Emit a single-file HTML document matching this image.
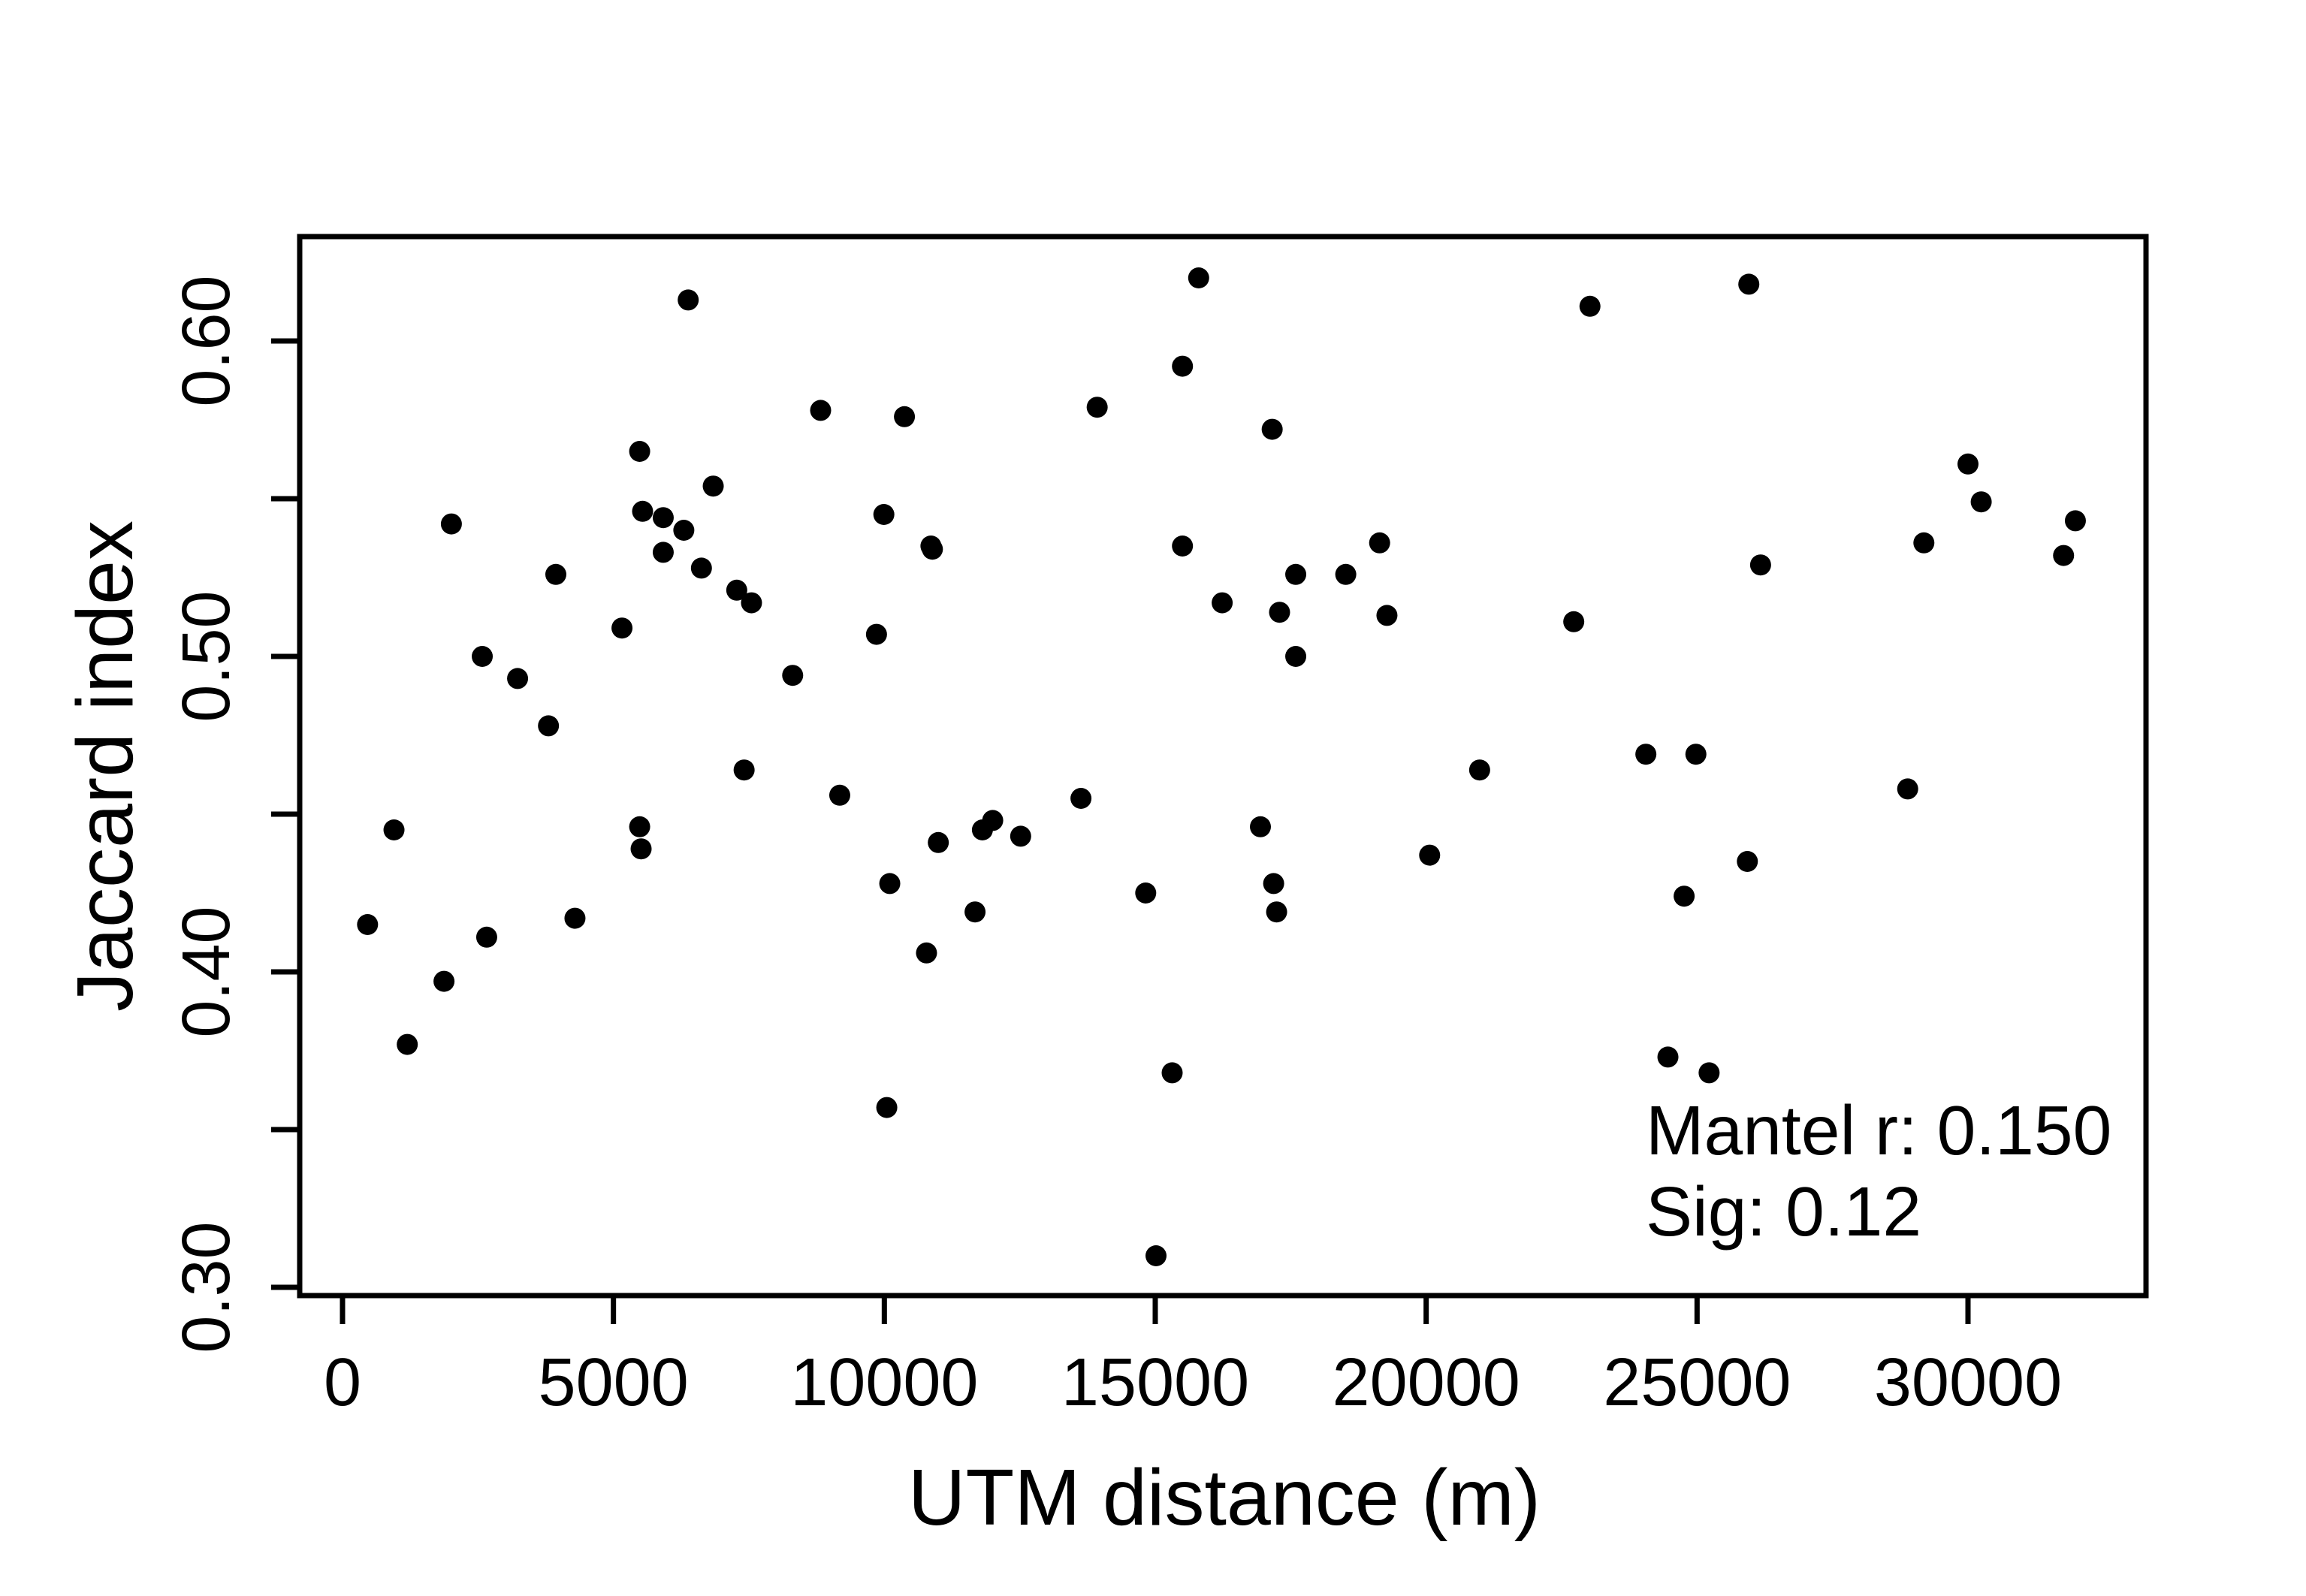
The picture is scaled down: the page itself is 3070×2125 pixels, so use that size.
<!DOCTYPE html>
<html><head><meta charset="utf-8"><style>
html,body{margin:0;padding:0;background:#fff}
svg{display:block}
text{font-family:"Liberation Sans",Arial,sans-serif;fill:#000}
</style></head><body>
<svg id="chart" width="3070" height="2125" viewBox="0 0 3070 2125" xmlns="http://www.w3.org/2000/svg">
<rect x="0" y="0" width="3070" height="2125" fill="#fff"/>
<g id="points"></g>
<g id="axes"></g>
<rect x="399" y="315" width="2458" height="1410" fill="none" stroke="#000" stroke-width="7"/>
<text x="1630" y="2030" font-size="106" text-anchor="middle">UTM distance (m)</text>
<text transform="translate(176,1020) rotate(-90)" font-size="106" text-anchor="middle">Jaccard index</text>
<text x="2191" y="1537" font-size="93">Mantel r: 0.150</text>
<text x="2191" y="1645" font-size="93">Sig: 0.12</text>
</svg>
<script>
const xValues=[462,950,1195,1873,2009,2579,2661,3231,3801,3937,4290,5158,5484,5538,5484,5511,5919,5919,6299,6380,6624,6842,7276,7412,7548,8308,8824,9177,9855,9991,10100,10045,10371,10778,10860,10887,10996,11674,11810,12000,12516,13629,13928,14824,15014,15312,15502,15502,15801,16235,16941,17158,17185,17240,17294,17593,17593,18516,19141,19276,20064,20987,22724,23023,24055,24462,24761,24978,25222,25928,25955,26172,28887,29186,30000,30244,31764,31982];
const yValues=[0.415,0.445,0.377,0.397,0.542,0.500,0.411,0.493,0.478,0.526,0.417,0.509,0.565,0.546,0.446,0.439,0.544,0.533,0.540,0.613,0.528,0.554,0.521,0.464,0.517,0.494,0.578,0.456,0.507,0.545,0.428,0.357,0.576,0.406,0.535,0.534,0.441,0.419,0.445,0.448,0.443,0.455,0.579,0.425,0.310,0.368,0.592,0.535,0.620,0.517,0.446,0.572,0.428,0.419,0.514,0.526,0.500,0.526,0.536,0.513,0.437,0.464,0.511,0.611,0.469,0.373,0.424,0.469,0.368,0.435,0.618,0.529,0.458,0.536,0.561,0.549,0.532,0.543];
const xTicks=[0,5000,10000,15000,20000,25000,30000];
const xTickLabels=["0","5000","10000","15000","20000","25000","30000"];
const yTicks=[0.30,0.35,0.40,0.45,0.50,0.55,0.60];
const yTickLabels=["0.30","","0.40","","0.50","","0.60"];
const NS="http://www.w3.org/2000/svg";
function sx(v){return 456+(v-0)*(2620-456)/30000;}
function sy(v){return 454+(0.60-v)*(1294-454)/0.20;}
const pg=document.getElementById('points');
for(let i=0;i<xValues.length;i++){
  const c=document.createElementNS(NS,'circle');
  c.setAttribute('cx',sx(xValues[i]));c.setAttribute('cy',sy(yValues[i]));c.setAttribute('r',14);c.setAttribute('fill','#000');
  
  
  pg.appendChild(c);
}
const ag=document.getElementById('axes');
function line(x1,y1,x2,y2,name){const l=document.createElementNS(NS,'line');l.setAttribute('x1',x1);l.setAttribute('y1',y1);l.setAttribute('x2',x2);l.setAttribute('y2',y2);l.setAttribute('stroke','#000');l.setAttribute('stroke-width',7);


ag.appendChild(l);}
line(sx(xTicks[0]),1725,sx(xTicks[xTicks.length-1]),1725,'x-axis-line');
xTicks.forEach((t,i)=>{line(sx(t),1725,sx(t),1763,'x-tick');
 const tx=document.createElementNS(NS,'text');tx.setAttribute('x',sx(t));tx.setAttribute('y',1871);tx.setAttribute('font-size',90);tx.setAttribute('text-anchor','middle');tx.textContent=xTickLabels[i];
 
 
 ag.appendChild(tx);});
line(399,sy(yTicks[0]),399,sy(yTicks[yTicks.length-1]),'y-axis-line');
yTicks.forEach((t,i)=>{line(399,sy(t),361,sy(t),'y-tick');
 if(yTickLabels[i]){const tx=document.createElementNS(NS,'text');tx.setAttribute('transform','translate(305,'+sy(t)+') rotate(-90)');tx.setAttribute('font-size',90);tx.setAttribute('text-anchor','middle');tx.textContent=yTickLabels[i];
 
 
 ag.appendChild(tx);}});
</script>
</body></html>
